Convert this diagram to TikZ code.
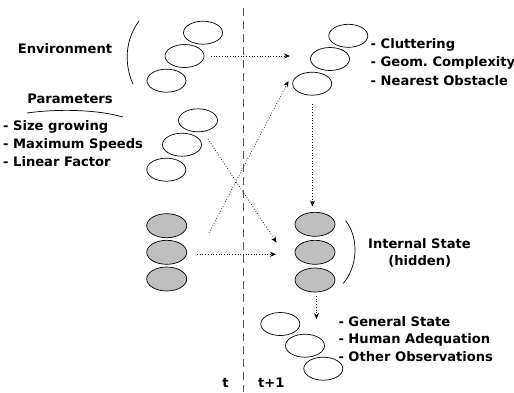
\documentclass[tikz,border=0pt]{standalone}
\usepackage{fontspec}
\setmainfont{DejaVu Sans}
\usetikzlibrary{shapes.geometric,arrows.meta}
\tikzset{
  oval/.style={draw, ellipse, line width=0.7pt, minimum width=39pt, minimum height=23pt, inner sep=0pt},
  goval/.style={oval, fill=black!25, minimum width=40pt, minimum height=24pt},
  flow/.style={dotted, line width=0.7pt, -{Stealth[length=6pt,width=5pt]}},
  lbl/.style={font=\bfseries\fontsize{13.1}{15}\selectfont, inner sep=0pt},
  lst/.style={lbl, anchor=west},
  brace/.style={line width=0.7pt},
  timeline/.style={dash pattern=on 8pt off 5pt, line width=0.9pt, black!65}
}
\frenchspacing
\begin{document}
\begin{tikzpicture}[x=1pt,y=-1pt]
\useasboundingbox (0,0) rectangle (514,392);
% time separator
\coordinate (ttop) at (243,8);
\coordinate (tbot) at (243,392);
\draw[timeline] (ttop) -- (tbot);
\node[lbl] (t) at (225.5,383) {t};
\node[lst] (t1) at (258,383) {t+1};
% environment at t
\node[oval] (e1) at (203,32.7) {};
\node[oval] (e2) at (184.5,56) {};
\node[oval] (e3) at (166.5,80.7) {};
\node[lbl] (env) at (65,49) {Environment};
\coordinate (ea) at (139,21);
\coordinate (eb) at (133,84);
\draw[brace] (ea) .. controls (125,40) and (124,64) .. (eb);
% parameters
\node[oval] (p1) at (198,120.3) {};
\node[oval] (p2) at (182,144.7) {};
\node[oval] (p3) at (166.3,169.7) {};
\node[lbl] (par) at (70,99) {Parameters};
\coordinate (pa) at (27,113);
\coordinate (pb) at (123,117);
\draw[brace] (pa) .. controls (55,109) and (95,109) .. (pb);
\node[lst] (s1) at (3,127) {- Size growing};
\node[lst] (s2) at (3,144.5) {- Maximum Speeds};
\node[lst] (s3) at (3,162) {- Linear Factor};
% hidden at t
\node[goval] (h1) at (166.7,225.7) {};
\node[goval] (h2) at (166.7,252.3) {};
\node[goval] (h3) at (166.7,279) {};
% environment at t+1
\node[oval] (r1) at (348.3,35.8) {};
\node[oval] (r2) at (330,59) {};
\node[oval] (r3) at (312.2,83.7) {};
\node[lst] (c1) at (370.5,45) {- Cluttering};
\node[lst] (c2) at (370.5,62.5) {- Geom. Complexity};
\node[lst] (c3) at (370.5,80.5) {- Nearest Obstacle};
% hidden at t+1
\node[goval] (rh1) at (315,224.3) {};
\node[goval] (rh2) at (315,252.3) {};
\node[goval] (rh3) at (315,280) {};
\coordinate (ia) at (345.7,220.7);
\coordinate (ib) at (343.3,283.3);
\draw[brace] (ia) .. controls (359,238) and (358,266) .. (ib);
\node[lbl] (ist) at (419.5,243.3) {Internal State};
\node[lbl] (hid) at (419.7,261.7) {(hidden)};
% observations
\node[oval] (o1) at (280.3,324) {};
\node[oval] (o2) at (305,345.7) {};
\node[oval] (o3) at (323.3,368.7) {};
\node[lst] (g1) at (338.3,322) {- General State};
\node[lst] (g2) at (338.3,339.5) {- Human Adequation};
\node[lst] (g3) at (338.3,357) {- Other Observations};
% arrows
\coordinate (a1s) at (211,56);
\coordinate (a1e) at (290,56);
\draw[flow] (a1s) -- (a1e);
\coordinate (a2s) at (209,233);
\coordinate (a2e) at (288.5,81);
\draw[flow] (a2s) -- (a2e);
\coordinate (a3s) at (208,139);
\coordinate (a3e) at (276.5,242.5);
\draw[flow] (a3s) -- (a3e);
\coordinate (a4s) at (197,254.3);
\coordinate (a4e) at (276,254.3);
\draw[flow] (a4s) -- (a4e);
\coordinate (a5s) at (312.5,104);
\coordinate (a5e) at (312.5,206.5);
\draw[flow] (a5s) -- (a5e);
\coordinate (a6s) at (316.5,296);
\coordinate (a6e) at (316.5,319);
\draw[flow] (a6s) -- (a6e);
\end{tikzpicture}
\end{document}
